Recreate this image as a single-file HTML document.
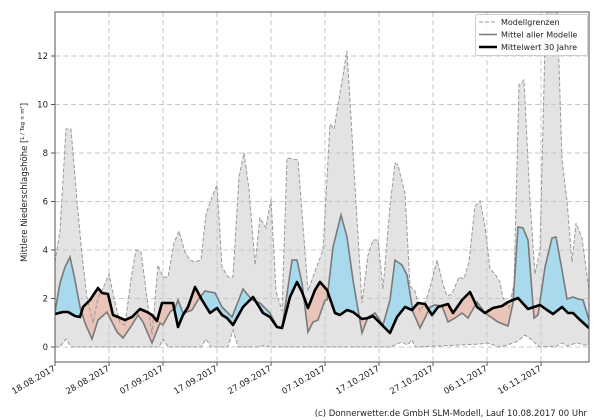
<!DOCTYPE html>
<html><head><meta charset="utf-8"><style>
html,body{margin:0;padding:0;background:#fff;}
svg{display:block;font-family:"DejaVu Sans","Liberation Sans",sans-serif;}
</style></head><body>
<svg width="600" height="420" viewBox="0 0 600 420" xmlns="http://www.w3.org/2000/svg">
<defs>
<clipPath id="plot"><rect x="55" y="12" width="534" height="350"/></clipPath>
<clipPath id="aboveC"><polygon points="55,0 55,314 63,312 68,312 75,316 80,317 83,307 90,300 98,288 102,293 108,294 113,315 118,317 125,320 132,317 140,309 147,312 152,315 157,321 162,303 168,303 173,303 178,327 183,315 188,307 195,287 202,300 210,313 217,308 222,315 227,318 233,325 243,307 253,297 263,313 270,317 277,327 282,328 290,297 297,282 302,292 308,308 315,290 320,282 327,290 335,313 340,315 347,310 353,312 362,319 368,318 373,316 382,325 390,333 397,317 405,307 412,310 418,303 425,304 432,315 438,307 448,304 453,313 460,303 462,300 470,292 477,307 485,313 493,308 502,306 508,302 518,298 528,309 540,305 547,310 553,314 562,307 568,313 573,313 578,318 589,328 589,0"/></clipPath>
<clipPath id="belowC"><polygon points="55,420 55,314 63,312 68,312 75,316 80,317 83,307 90,300 98,288 102,293 108,294 113,315 118,317 125,320 132,317 140,309 147,312 152,315 157,321 162,303 168,303 173,303 178,327 183,315 188,307 195,287 202,300 210,313 217,308 222,315 227,318 233,325 243,307 253,297 263,313 270,317 277,327 282,328 290,297 297,282 302,292 308,308 315,290 320,282 327,290 335,313 340,315 347,310 353,312 362,319 368,318 373,316 382,325 390,333 397,317 405,307 412,310 418,303 425,304 432,315 438,307 448,304 453,313 460,303 462,300 470,292 477,307 485,313 493,308 502,306 508,302 518,298 528,309 540,305 547,310 553,314 562,307 568,313 573,313 578,318 589,328 589,420"/></clipPath>
</defs>
<g clip-path="url(#plot)">
<polygon fill="#e3e3e3" points="55,262 60,231 66,129 71,129 77,201 82,255 87,298 93,323 98,298 104,286 109,274 114,298 120,323 125,325 131,279 136,250 141,252 147,298 152,335 158,265 163,277 168,277 174,243 179,231 185,252 190,260 195,262 201,260 206,214 212,197 217,185 222,267 228,277 233,277 239,177 244,153 249,189 255,265 260,218 266,228 271,199 276,291 282,311 287,158 293,159 298,160 308,291 314,274 323,250 330,124 334,129 347,51 362,303 368,255 373,240 378,240 383,289 390,206 395,163 398,165 405,194 410,286 415,291 420,311 426,301 431,284 437,260 443,284 447,296 452,294 459,277 464,279 469,262 475,206 480,201 485,226 490,269 495,274 500,282 503,298 509,308 514,284 519,85 524,80 530,201 535,274 540,250 545,44 548,0 557,0 562,160 567,201 572,262 576,223 582,238 589,290 589,345 583,345 578,343 573,344 567,346 562,343 557,346 540,347 536,344 532,340 525,335 518,341 510,344 500,347 487,343 480,344 460,345 415,347 412,340 407,345 402,342 397,344 390,347 270,347 265,345 260,347 238,347 233,330 228,347 211,347 206,339 201,347 168,347 163,339 159,347 71,347 66,339 60,347 55,347"/>
<g stroke="#c8c8c8" stroke-width="1" stroke-dasharray="5,3">
<line x1="109" y1="12" x2="109" y2="362"/><line x1="163" y1="12" x2="163" y2="362"/><line x1="217" y1="12" x2="217" y2="362"/><line x1="271" y1="12" x2="271" y2="362"/><line x1="325" y1="12" x2="325" y2="362"/><line x1="379" y1="12" x2="379" y2="362"/><line x1="433" y1="12" x2="433" y2="362"/><line x1="487" y1="12" x2="487" y2="362"/><line x1="541" y1="12" x2="541" y2="362"/>
<line x1="55" y1="347" x2="589" y2="347"/><line x1="55" y1="298.5" x2="589" y2="298.5"/><line x1="55" y1="250" x2="589" y2="250"/><line x1="55" y1="201.5" x2="589" y2="201.5"/><line x1="55" y1="153" x2="589" y2="153"/><line x1="55" y1="104.5" x2="589" y2="104.5"/><line x1="55" y1="56" x2="589" y2="56"/>
</g>
<polygon fill="#a9d9ec" clip-path="url(#aboveC)" points="55,312 60,283 65,267 70,257 75,280 80,307 85,323 92,339 98,320 107,312 112,322 117,332 123,338 132,325 138,315 143,322 152,343 160,323 163,325 170,312 175,308 178,300 183,313 190,311 192,310 198,300 205,291 215,293 222,307 232,317 243,289 252,300 260,303 270,313 277,327 282,328 292,260 297,260 302,283 308,332 313,322 318,320 325,300 327,300 333,247 341,215 347,237 353,280 362,333 368,317 375,313 383,325 390,300 395,260 402,265 407,275 413,312 420,328 425,318 430,307 435,305 442,306 448,322 455,318 462,313 468,318 477,302 485,313 498,322 508,326 513,303 518,227 523,228 528,240 534,318 538,315 545,267 552,238 556,237 562,270 567,299 573,297 578,299 583,300 589,320 589,328 578,318 573,313 568,313 562,307 553,314 547,310 540,305 528,309 518,298 508,302 502,306 493,308 485,313 477,307 470,292 462,300 460,303 453,313 448,304 438,307 432,315 425,304 418,303 412,310 405,307 397,317 390,333 382,325 373,316 368,318 362,319 353,312 347,310 340,315 335,313 327,290 320,282 315,290 308,308 302,292 297,282 290,297 282,328 277,327 270,317 263,313 253,297 243,307 233,325 227,318 222,315 217,308 210,313 202,300 195,287 188,307 183,315 178,327 173,303 168,303 162,303 157,321 152,315 147,312 140,309 132,317 125,320 118,317 113,315 108,294 102,293 98,288 90,300 83,307 80,317 75,316 68,312 63,312 55,314"/>
<polygon fill="#e9c4b8" clip-path="url(#belowC)" points="55,312 60,283 65,267 70,257 75,280 80,307 85,323 92,339 98,320 107,312 112,322 117,332 123,338 132,325 138,315 143,322 152,343 160,323 163,325 170,312 175,308 178,300 183,313 190,311 192,310 198,300 205,291 215,293 222,307 232,317 243,289 252,300 260,303 270,313 277,327 282,328 292,260 297,260 302,283 308,332 313,322 318,320 325,300 327,300 333,247 341,215 347,237 353,280 362,333 368,317 375,313 383,325 390,300 395,260 402,265 407,275 413,312 420,328 425,318 430,307 435,305 442,306 448,322 455,318 462,313 468,318 477,302 485,313 498,322 508,326 513,303 518,227 523,228 528,240 534,318 538,315 545,267 552,238 556,237 562,270 567,299 573,297 578,299 583,300 589,320 589,328 578,318 573,313 568,313 562,307 553,314 547,310 540,305 528,309 518,298 508,302 502,306 493,308 485,313 477,307 470,292 462,300 460,303 453,313 448,304 438,307 432,315 425,304 418,303 412,310 405,307 397,317 390,333 382,325 373,316 368,318 362,319 353,312 347,310 340,315 335,313 327,290 320,282 315,290 308,308 302,292 297,282 290,297 282,328 277,327 270,317 263,313 253,297 243,307 233,325 227,318 222,315 217,308 210,313 202,300 195,287 188,307 183,315 178,327 173,303 168,303 162,303 157,321 152,315 147,312 140,309 132,317 125,320 118,317 113,315 108,294 102,293 98,288 90,300 83,307 80,317 75,316 68,312 63,312 55,314"/>
<polyline fill="none" stroke="#999" stroke-width="1" stroke-dasharray="4,2" points="55,262 60,231 66,129 71,129 77,201 82,255 87,298 93,323 98,298 104,286 109,274 114,298 120,323 125,325 131,279 136,250 141,252 147,298 152,335 158,265 163,277 168,277 174,243 179,231 185,252 190,260 195,262 201,260 206,214 212,197 217,185 222,267 228,277 233,277 239,177 244,153 249,189 255,265 260,218 266,228 271,199 276,291 282,311 287,158 293,159 298,160 308,291 314,274 323,250 330,124 334,129 347,51 362,303 368,255 373,240 378,240 383,289 390,206 395,163 398,165 405,194 410,286 415,291 420,311 426,301 431,284 437,260 443,284 447,296 452,294 459,277 464,279 469,262 475,206 480,201 485,226 490,269 495,274 500,282 503,298 509,308 514,284 519,85 524,80 530,201 535,274 540,250 545,44 548,0 557,0 562,160 567,201 572,262 576,223 582,238 589,290"/>
<polyline fill="none" stroke="#999" stroke-width="1" stroke-dasharray="4,2" points="55,347 60,347 66,339 71,347 159,347 163,339 168,347 201,347 206,339 211,347 228,347 233,330 238,347 260,347 265,345 270,347 390,347 397,344 402,342 407,345 412,340 415,347 460,345 480,344 487,343 500,347 510,344 518,341 525,335 532,340 536,344 540,347 557,346 562,343 567,346 573,344 578,343 583,345 589,345"/>
<polyline fill="none" stroke="#7a7a7a" stroke-width="1.6" points="55,312 60,283 65,267 70,257 75,280 80,307 85,323 92,339 98,320 107,312 112,322 117,332 123,338 132,325 138,315 143,322 152,343 160,323 163,325 170,312 175,308 178,300 183,313 190,311 192,310 198,300 205,291 215,293 222,307 232,317 243,289 252,300 260,303 270,313 277,327 282,328 292,260 297,260 302,283 308,332 313,322 318,320 325,300 327,300 333,247 341,215 347,237 353,280 362,333 368,317 375,313 383,325 390,300 395,260 402,265 407,275 413,312 420,328 425,318 430,307 435,305 442,306 448,322 455,318 462,313 468,318 477,302 485,313 498,322 508,326 513,303 518,227 523,228 528,240 534,318 538,315 545,267 552,238 556,237 562,270 567,299 573,297 578,299 583,300 589,320"/>
<polyline fill="none" stroke="#000" stroke-width="2.6" stroke-linejoin="round" points="55,314 63,312 68,312 75,316 80,317 83,307 90,300 98,288 102,293 108,294 113,315 118,317 125,320 132,317 140,309 147,312 152,315 157,321 162,303 168,303 173,303 178,327 183,315 188,307 195,287 202,300 210,313 217,308 222,315 227,318 233,325 243,307 253,297 263,313 270,317 277,327 282,328 290,297 297,282 302,292 308,308 315,290 320,282 327,290 335,313 340,315 347,310 353,312 362,319 368,318 373,316 382,325 390,333 397,317 405,307 412,310 418,303 425,304 432,315 438,307 448,304 453,313 460,303 462,300 470,292 477,307 485,313 493,308 502,306 508,302 518,298 528,309 540,305 547,310 553,314 562,307 568,313 573,313 578,318 589,328"/>
</g>
<rect x="55" y="12" width="534" height="350" fill="none" stroke="#555" stroke-width="1"/>
<g stroke="#555"><line x1="51" y1="347" x2="55" y2="347"/><line x1="51" y1="298.5" x2="55" y2="298.5"/><line x1="51" y1="250" x2="55" y2="250"/><line x1="51" y1="201.5" x2="55" y2="201.5"/><line x1="51" y1="153" x2="55" y2="153"/><line x1="51" y1="104.5" x2="55" y2="104.5"/><line x1="51" y1="56" x2="55" y2="56"/>
<line x1="55" y1="362" x2="55" y2="366"/><line x1="109" y1="362" x2="109" y2="366"/><line x1="163" y1="362" x2="163" y2="366"/><line x1="217" y1="362" x2="217" y2="366"/><line x1="271" y1="362" x2="271" y2="366"/><line x1="325" y1="362" x2="325" y2="366"/><line x1="379" y1="362" x2="379" y2="366"/><line x1="433" y1="362" x2="433" y2="366"/><line x1="487" y1="362" x2="487" y2="366"/><line x1="541" y1="362" x2="541" y2="366"/></g>
<g font-size="8.5" fill="#222" text-anchor="end">
<text x="48" y="350">0</text><text x="48" y="301.5">2</text><text x="48" y="253">4</text><text x="48" y="204.5">6</text><text x="48" y="156">8</text><text x="48" y="107.5">10</text><text x="48" y="59">12</text>
<text transform="translate(56,370) rotate(-30)">18.08.2017</text>
<text transform="translate(110,370) rotate(-30)">28.08.2017</text>
<text transform="translate(164,370) rotate(-30)">07.09.2017</text>
<text transform="translate(218,370) rotate(-30)">17.09.2017</text>
<text transform="translate(272,370) rotate(-30)">27.09.2017</text>
<text transform="translate(326,370) rotate(-30)">07.10.2017</text>
<text transform="translate(380,370) rotate(-30)">17.10.2017</text>
<text transform="translate(434,370) rotate(-30)">27.10.2017</text>
<text transform="translate(488,370) rotate(-30)">06.11.2017</text>
<text transform="translate(542,370) rotate(-30)">16.11.2017</text>
</g>
<text transform="translate(27,262) rotate(-90)" font-size="8.5" fill="#222">Mittlere Niederschlagshöhe [<tspan font-size="5.5" dy="-3">L / Tag × m²</tspan><tspan dy="3">]</tspan></text>
<rect x="475.5" y="14.5" width="112" height="41" fill="#fff" fill-opacity="0.85" stroke="#ccc" rx="2"/>
<line x1="479" y1="22" x2="497" y2="22" stroke="#999" stroke-dasharray="4,2"/>
<line x1="479" y1="34.5" x2="497" y2="34.5" stroke="#7a7a7a" stroke-width="1.6"/>
<line x1="479" y1="47" x2="497" y2="47" stroke="#000" stroke-width="2.6"/>
<g font-size="8" fill="#222"><text x="501" y="25">Modellgrenzen</text><text x="501" y="37.5">Mittel aller Modelle</text><text x="501" y="50">Mittelwert 30 Jahre</text></g>
<text x="587" y="416" font-size="8.5" fill="#222" text-anchor="end">(c) Donnerwetter.de GmbH SLM-Modell, Lauf 10.08.2017 00 Uhr</text>
</svg>
</body></html>
